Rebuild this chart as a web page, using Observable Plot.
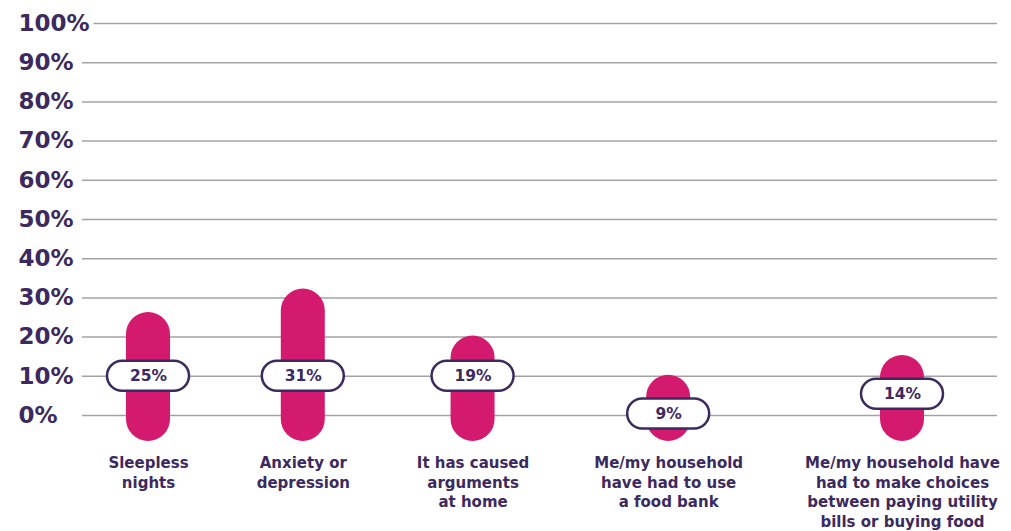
<!DOCTYPE html>
<html>
<head>
<meta charset="utf-8">
<script src="https://cdn.jsdelivr.net/npm/d3@7"></script>
<script src="https://cdn.jsdelivr.net/npm/@observablehq/plot@0.6"></script>
<style>
  html, body { margin: 0; padding: 0; background: #ffffff; }
  #chart { width: 1011px; height: 531px; }
</style>
</head>
<body>
<div id="chart"></div>
<script>
// ---- data ----
const categories = [
  "Sleepless\nnights",
  "Anxiety or\ndepression",
  "It has caused\narguments\nat home",
  "Me/my household\nhave had to use\na food bank",
  "Me/my household have\nhad to make choices\nbetween paying utility\nbills or buying food"
];
const values = [25, 31, 19, 9, 14];
const yTicks = [0, 10, 20, 30, 40, 50, 60, 70, 80, 90, 100];

// ---- styling ----
const FONT = "DejaVu Sans";
const PURPLE = "#3c2a5e";
const MAGENTA = "#d41a6f";
const GRID = "#a3a3a3";
const LABEL_SIZE = 15;

// Lay the categories out like a row of labels with equal gaps between them
const ctx = document.createElement("canvas").getContext("2d");
ctx.font = `bold ${LABEL_SIZE}px "${FONT}"`;
const widths = categories.map(c => d3.max(c.split("\n"), line => ctx.measureText(line).width));
const GAP = 80;
let cursor = 0;
const centers = widths.map(w => { const c = cursor + w / 2; cursor += w + GAP; return c; });

const rows = categories.map((label, i) => ({
  label,
  value: values[i],
  pos: centers[i],
  labelY: Math.min(10, values[i] - 8.6)
}));

const chart = Plot.plot({
  width: 1011,
  height: 531,
  marginLeft: 82,
  marginRight: 14,
  marginTop: 23,
  marginBottom: 116,
  style: { fontFamily: FONT, background: "#ffffff", overflow: "visible" },
  x: { type: "linear", domain: [centers[0], centers[centers.length - 1]], range: [148, 902], axis: null },
  y: { domain: [0, 100], axis: null },
  marks: [
    Plot.ruleY(yTicks, { stroke: GRID, strokeWidth: 1.5 }),
    Plot.text(yTicks, {
      y: d => d,
      text: d => d + "%",
      frameAnchor: "left",
      dx: -64,
      textAnchor: "start",
      fontSize: 23,
      fontWeight: "bold",
      fill: PURPLE,
      stroke: "white",
      strokeWidth: 10
    }),
    Plot.rect(rows, {
      x1: "pos", x2: "pos",
      y1: () => 0, y2: "value",
      insetLeft: -22, insetRight: -22,
      insetTop: -5, insetBottom: -26,
      rx: 22,
      fill: MAGENTA
    }),
    Plot.rect(rows, {
      x1: "pos", x2: "pos",
      y1: "labelY", y2: "labelY",
      insetLeft: -41, insetRight: -41,
      insetTop: -15, insetBottom: -15,
      rx: 15,
      fill: "white",
      stroke: PURPLE,
      strokeWidth: 2.5
    }),
    Plot.text(rows, {
      x: "pos",
      y: "labelY",
      text: d => d.value + "%",
      fontSize: 15.5,
      fontWeight: "bold",
      fill: PURPLE
    }),
    Plot.text(rows, {
      x: "pos",
      y: () => 0,
      text: "label",
      lineAnchor: "top",
      dy: 39,
      lineHeight: 1.3,
      fontSize: LABEL_SIZE,
      fontWeight: "bold",
      fill: PURPLE
    })
  ]
});
document.getElementById("chart").appendChild(chart);
</script>
</body>
</html>
